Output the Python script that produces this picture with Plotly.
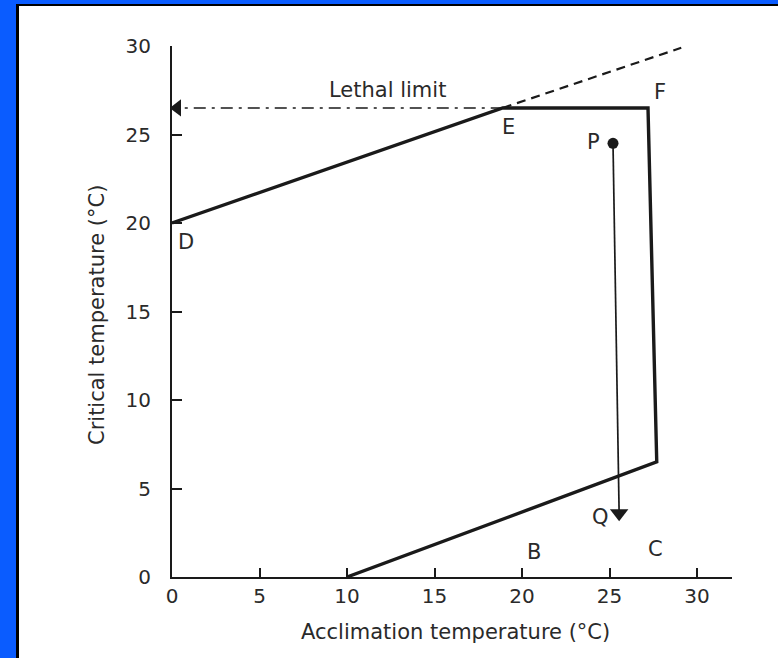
import plotly.graph_objects as go

# Data
boundary_x = [0, 18.9, 27.2, 27.7, 10.0]
boundary_y = [20.0, 26.5, 26.5, 6.5, 0.0]
ext_x = [18.9, 29.1]
ext_y = [26.5, 29.9]
lethal_x = [18.9, 0.3]
lethal_y = [26.5, 26.5]
pq_x = [25.2, 25.55]
pq_y = [24.5, 3.6]
labels = ["D", "E", "F", "P", "Q", "B", "C"]
label_x = [0.2, 19.2, 27.9, 24.1, 24.5, 20.7, 27.6]
label_y = [18.9, 25.4, 27.4, 24.6, 3.4, 1.4, 1.6]
xticks = [0, 5, 10, 15, 20, 25, 30]
yticks = [0, 5, 10, 15, 20, 25, 30]

FONT = "DejaVu Sans, sans-serif"
INK = "#1a1a1a"
TXT = "#2a2a2a"

fig = go.Figure()
fig.add_trace(go.Scatter(x=boundary_x, y=boundary_y, mode="lines",
                         line=dict(color=INK, width=3.4), hoverinfo="skip"))
fig.add_trace(go.Scatter(x=ext_x, y=ext_y, mode="lines",
                         line=dict(color=INK, width=2.2, dash="9px,6px"), hoverinfo="skip"))
fig.add_trace(go.Scatter(x=lethal_x, y=lethal_y, mode="lines",
                         line=dict(color=INK, width=1.6, dash="12px,6px,3px,6px"), hoverinfo="skip"))
fig.add_trace(go.Scatter(x=[lethal_x[-1]], y=[lethal_y[-1]], mode="markers",
                         marker=dict(symbol="triangle-left", size=15, color=INK), hoverinfo="skip"))
fig.add_trace(go.Scatter(x=pq_x, y=pq_y, mode="lines",
                         line=dict(color=INK, width=1.7), hoverinfo="skip"))
fig.add_trace(go.Scatter(x=[pq_x[0]], y=[pq_y[0]], mode="markers",
                         marker=dict(symbol="circle", size=11, color=INK), hoverinfo="skip"))
fig.add_trace(go.Scatter(x=[pq_x[1]], y=[pq_y[1]], mode="markers",
                         marker=dict(symbol="triangle-down", size=16, color=INK), hoverinfo="skip"))

ann = []
for t, x, y in zip(labels, label_x, label_y):
    ann.append(dict(x=x, y=y, text=t, showarrow=False, xanchor="left" if t == "D" else "center",
                    font=dict(family=FONT, size=21, color=TXT)))
ann.append(dict(x=12.3, y=27.5, text="Lethal limit", showarrow=False,
                font=dict(family=FONT, size=21, color=TXT)))
ann.append(dict(xref="paper", yref="paper", x=(97 - 172) / 560, y=(577 - 315) / 531,
                text="Critical temperature (°C)", textangle=-90, showarrow=False,
                xanchor="center", yanchor="middle",
                font=dict(family=FONT, size=21, color=TXT)))
ann.append(dict(xref="paper", yref="paper", x=(455 - 172) / 560, y=-(632 - 577) / 531,
                text="Acclimation temperature (°C)", showarrow=False,
                xanchor="center", yanchor="middle",
                font=dict(family=FONT, size=21, color=TXT)))

shapes = [
    # blue frame (decoration)
    dict(type="rect", xref="paper", yref="paper", x0=-172 / 560, x1=(16 - 172) / 560,
         y0=-81 / 531, y1=1 + 46 / 531, fillcolor="#0a5cff", line=dict(width=0), layer="below"),
    dict(type="rect", xref="paper", yref="paper", x0=-172 / 560, x1=1 + 46 / 560,
         y0=1 + (46 - 4) / 531, y1=1 + 46 / 531, fillcolor="#0a5cff", line=dict(width=0), layer="below"),
    dict(type="line", xref="paper", yref="paper", x0=(17.5 - 172) / 560, x1=(17.5 - 172) / 560,
         y0=-81 / 531, y1=1 + (46 - 4) / 531, line=dict(color="black", width=3)),
    dict(type="line", xref="paper", yref="paper", x0=(16 - 172) / 560, x1=1 + 46 / 560,
         y0=1 + (46 - 5) / 531, y1=1 + (46 - 5) / 531, line=dict(color="black", width=2)),
]

fig.update_layout(
    width=778, height=658,
    margin=dict(l=172, r=46, t=46, b=81),
    paper_bgcolor="white", plot_bgcolor="white",
    showlegend=False,
    annotations=ann, shapes=shapes,
    xaxis=dict(range=[0, 32], tickvals=xticks, ticks="inside", ticklen=9, tickwidth=1.5,
               tickcolor=INK, showline=True, linecolor=INK, linewidth=2, showgrid=False,
               zeroline=False, ticklabelstandoff=0,
               tickfont=dict(family=FONT, size=20, color=TXT)),
    yaxis=dict(range=[0, 30], tickvals=yticks, ticks="inside", ticklen=10, tickwidth=1.5,
               tickcolor=INK, showline=True, linecolor=INK, linewidth=2, showgrid=False,
               zeroline=False, ticklabelstandoff=15,
               tickfont=dict(family=FONT, size=20, color=TXT)),
)

fig.write_html("out.html")
